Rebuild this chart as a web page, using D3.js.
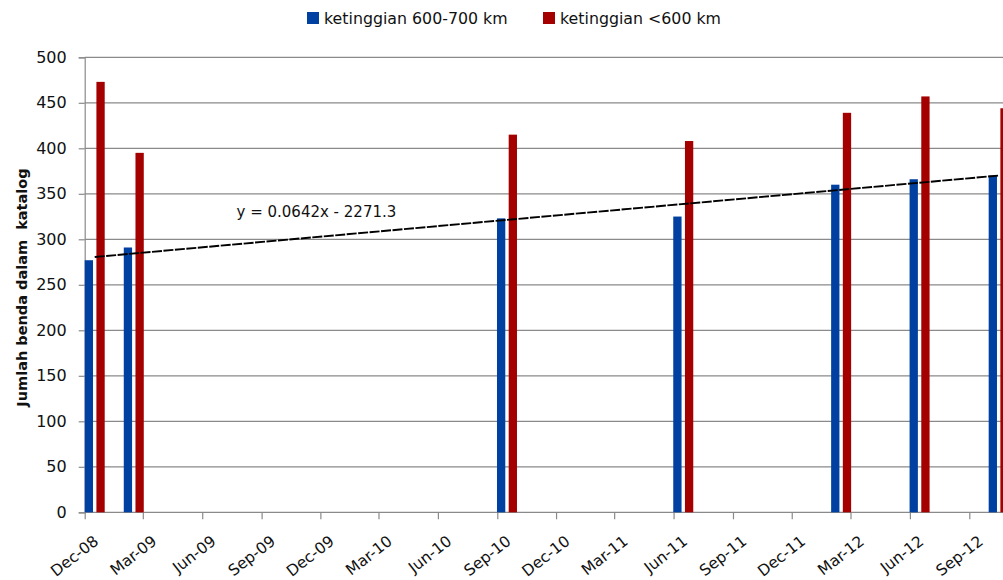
<!DOCTYPE html>
<html><head><meta charset="utf-8">
<script src="https://cdn.jsdelivr.net/npm/d3@7"></script>
<style>
html,body{margin:0;padding:0;background:#fff;}
svg{display:block;font-family:"DejaVu Sans",sans-serif;}
</style></head>
<body>
<svg id="chart" width="1003" height="580"></svg>
<script>
// ---- data ----
const months = ["2008-12","2009-02","2010-09","2011-06","2012-02","2012-06","2012-10"];
const series600700 = [277, 291, 323, 325, 360, 366, 370];
const seriesBelow600 = [473, 395, 415, 408, 439, 457, 444];
const seriesNames = ["ketinggian 600-700 km", "ketinggian <600 km"];
const yTicks = [0,50,100,150,200,250,300,350,400,450,500];
const xTickLabels = ["Dec-08","Mar-09","Jun-09","Sep-09","Dec-09","Mar-10","Jun-10","Sep-10","Dec-10","Mar-11","Jun-11","Sep-11","Dec-11","Mar-12","Jun-12","Sep-12"];
const trendLabel = "y = 0.0642x - 2271.3";
const yTitle = "Jumlah benda dalam  katalog";

// ---- layout ----
const W = 1003, H = 580;
const mLeft = 84.7, mTop = 57.3, mBottom = 512.3;
const colors = ["#0040A0", "#A50000"];
const textColor = "#111111";
const gridColor = "#8a8a8a";

const svg = d3.select("#chart");
const parseM = d3.utcParse("%Y-%m");

const x = d3.scaleUtc()
  .domain([Date.UTC(2008,11,1), Date.UTC(2012,8,1)])
  .range([mLeft, 969.3]);
const y = d3.scaleLinear().domain([0,500]).range([mBottom, mTop]);

const monthStart = months.map(parseM);
const center = d => (x(d) + x(d3.utcMonth.offset(d,1))) / 2;

// gridlines
svg.append("g").selectAll("line").data(yTicks.filter(v=>v>0)).join("line")
  .attr("x1", mLeft).attr("x2", W)
  .attr("y1", d=>y(d)).attr("y2", d=>y(d))
  .attr("stroke", gridColor).attr("stroke-width", 1.2);

// y axis
const yAxis = svg.append("g").attr("transform", `translate(${mLeft},0)`)
  .call(d3.axisLeft(y).tickValues(yTicks).tickSize(6).tickPadding(12));
yAxis.select(".domain").attr("stroke", gridColor).attr("stroke-width", 1.2);
yAxis.selectAll(".tick line").attr("stroke", gridColor).attr("stroke-width", 1.2);
yAxis.selectAll("text").attr("font-size", 16).attr("fill", textColor)
  .attr("font-family", "DejaVu Sans, sans-serif");

// x axis
const xTickDates = xTickLabels.map(s => d3.utcParse("%b-%y")(s));
const xAxis = svg.append("g").attr("transform", `translate(0,${mBottom})`)
  .call(d3.axisBottom(x).tickValues(xTickDates).tickFormat((d,i)=>xTickLabels[i]).tickSize(7).tickSizeOuter(0));
xAxis.select(".domain").attr("d", `M${mLeft},0H${W}`).attr("stroke", gridColor).attr("stroke-width", 1.2);
xAxis.selectAll(".tick line").attr("stroke", gridColor).attr("stroke-width", 1.2);
xAxis.selectAll("text")
  .attr("font-size", 15.5).attr("fill", textColor)
  .attr("font-family", "DejaVu Sans, sans-serif")
  .attr("text-anchor", "end")
  .attr("transform", "translate(11,26.5) rotate(-38)")
  .attr("y", 0).attr("dy", "0.35em");

// bars
const bw = 8.3, gap = 1.7;
const bars = svg.append("g");
bars.selectAll("rect.s0").data(monthStart).join("rect").attr("class","s0")
  .attr("x", d=>center(d)-gap-bw).attr("width", bw)
  .attr("y", (d,i)=>y(series600700[i])).attr("height", (d,i)=>mBottom - y(series600700[i]))
  .attr("fill", colors[0]);
bars.selectAll("rect.s1").data(monthStart).join("rect").attr("class","s1")
  .attr("x", d=>center(d)+gap).attr("width", bw)
  .attr("y", (d,i)=>y(seriesBelow600[i])).attr("height", (d,i)=>mBottom - y(seriesBelow600[i]))
  .attr("fill", colors[1]);

// linear trendline (least squares of the blue series over date)
const xs = monthStart.map(d=>d.getTime()/864e5);
const mx = d3.mean(xs), my = d3.mean(series600700);
const slope = d3.sum(xs.map((v,i)=>(v-mx)*(series600700[i]-my))) / d3.sum(xs.map(v=>(v-mx)*(v-mx)));
const fit = v => my + slope*(v-mx);
const d0 = monthStart[0], d1 = monthStart[monthStart.length-1];
svg.append("line")
  .attr("x1", center(d0)).attr("y1", y(fit(xs[0])))
  .attr("x2", center(d1)).attr("y2", y(fit(xs[xs.length-1])))
  .attr("stroke", "#000").attr("stroke-width", 1.9).attr("stroke-dasharray", "10 1.5");

svg.append("text").attr("x", 236.5).attr("y", 217)
  .attr("font-size", 15).attr("fill", textColor).text(trendLabel);

// y title
svg.append("text")
  .attr("transform", "translate(26.5,287.5) rotate(-90)")
  .attr("text-anchor", "middle").attr("font-size", 14.5).attr("font-weight", "bold")
  .attr("fill", textColor).style("white-space","pre").text(yTitle);

// legend
const legX = [307, 543];
const leg = svg.append("g");
seriesNames.forEach((name,i)=>{
  leg.append("rect").attr("x", legX[i]).attr("y", 12).attr("width", 12).attr("height", 12).attr("fill", colors[i]);
  leg.append("text").attr("x", legX[i]+17).attr("y", 24).attr("font-size", 15.8).attr("fill", textColor).text(name);
});
</script>
</body></html>
